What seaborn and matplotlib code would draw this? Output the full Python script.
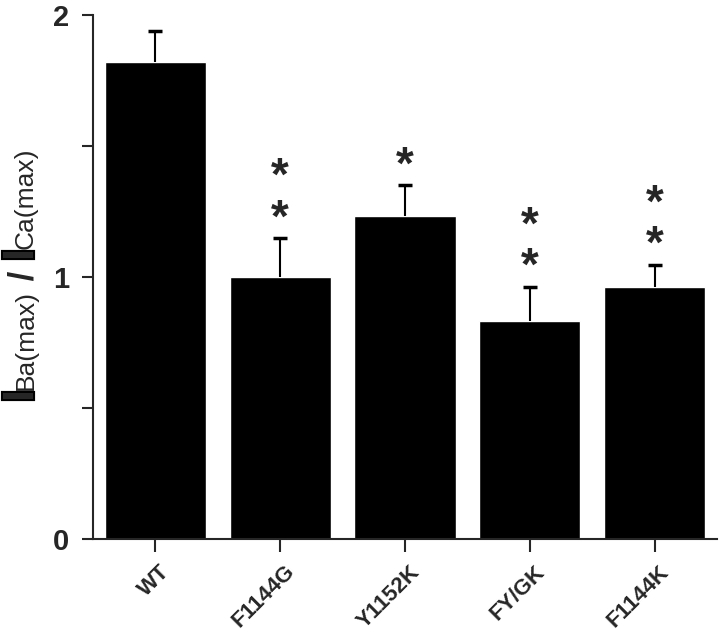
import numpy as np
import pandas as pd
import seaborn as sns
import matplotlib.pyplot as plt
import matplotlib.patheffects as pe
from matplotlib.transforms import ScaledTranslation
from matplotlib.ticker import MultipleLocator

# values
groups = ["WT", "F1144G", "Y1152K", "FY/GK", "F1144K"]
ratio = [1.82, 1.00, 1.234, 0.833, 0.963]
sem = [0.12, 0.148, 0.117, 0.13, 0.083]
n_stars = [0, 2, 1, 2, 2]

sns.set_style("ticks")
plt.rcParams["font.family"] = ["Liberation Sans", "DejaVu Sans"]

df = pd.DataFrame({"group": groups, "ratio": ratio, "sem": sem})

fig = plt.figure(figsize=(7.2, 6.37), dpi=100)
ax = fig.add_axes([93/720, 1 - 539/637, (717-93)/720, (539-15)/637])

# bars, then upper error bars on top (lower cap hidden)
sns.barplot(data=df, x="group", y="ratio", color="black", width=0.81,
            saturation=1, ax=ax, zorder=2)
x = np.arange(len(groups))
_, caps, _ = ax.errorbar(x, df["ratio"], yerr=[np.zeros(len(sem)), df["sem"]],
                         fmt="none", ecolor="black", elinewidth=1.5, capsize=5,
                         capthick=2.5, zorder=3)
caps[0].set_visible(False)

# significance asterisks above the error bars
for i in range(len(groups)):
    top = ratio[i] + sem[i]
    for k in range(n_stars[i]):
        ax.annotate("*", xy=(i, top), xytext=(0, 13.5 + 30 * k),
                    textcoords="offset points", ha="center", va="center",
                    fontsize=33, fontweight="bold")

ax.set_xlim(-0.5, 4.5)
ax.set_ylim(0, 2)
ax.yaxis.set_major_locator(MultipleLocator(1))
ax.yaxis.set_minor_locator(MultipleLocator(0.5))
ax.set_yticks([0, 1, 2])
ax.set_yticklabels(["0", "1", "2"], fontsize=21, fontweight="bold")
ax.tick_params(axis="y", which="both", length=8, width=1.5, direction="out", pad=9)
ax.tick_params(axis="x", length=9, width=1.5, direction="out", pad=7)
shift = ScaledTranslation(3/72, 0, fig.dpi_scale_trans)
for lab in ax.get_xticklabels():
    lab.set_rotation(45)
    lab.set_ha("right")
    lab.set_rotation_mode("anchor")
    lab.set_fontsize(16)
    lab.set_fontweight("bold")
    lab.set_transform(lab.get_transform() + shift)

ax.set_xlabel("")
ax.set_ylabel("")

# y label: I_Ba(max) / I_Ca(max), built from rotated pieces
pieces = [("I", 31, "bold"), ("Ba(max)", 19, "normal"), (" / ", 25, "bold"),
          ("I", 31, "bold"), ("Ca(max)", 19, "normal")]
fat = [pe.withStroke(linewidth=3, foreground="black", joinstyle="miter",
                     capstyle="butt")]
prev = None
for txt, size, weight in pieces:
    kw = dict(rotation=90, rotation_mode="anchor", ha="left", va="baseline",
              fontsize=size, fontweight=weight)
    if txt == "I":
        kw["path_effects"] = fat
    if prev is None:
        prev = fig.text(33/720, 1 - 402/637, txt, **kw)
    else:
        prev = ax.annotate(txt, xy=(33, 1), xycoords=("figure pixels", prev),
                           annotation_clip=False, **kw)

sns.despine(ax=ax)
for s in ["left", "bottom"]:
    ax.spines[s].set_linewidth(1.5)

fig.savefig("out.png", dpi=100)
